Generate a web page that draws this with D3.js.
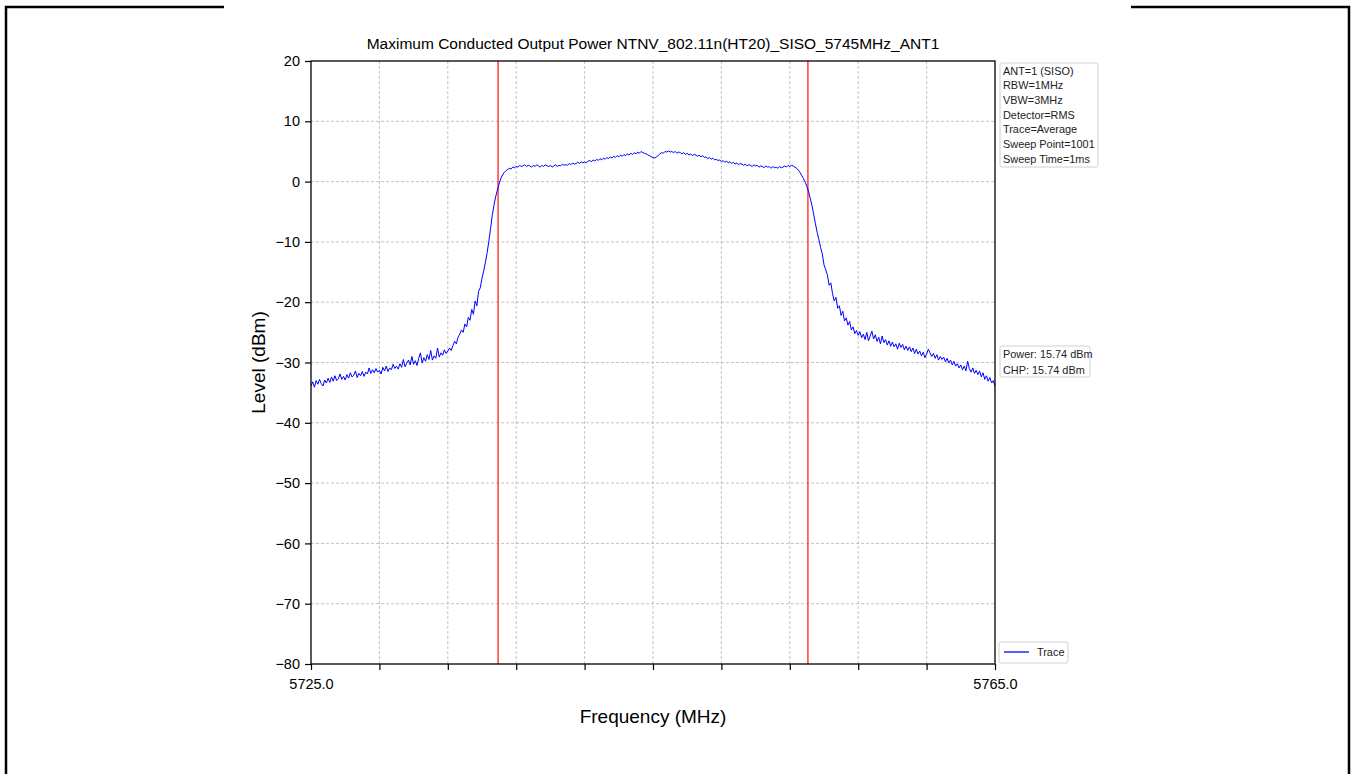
<!DOCTYPE html>
<html><head><meta charset="utf-8">
<script src="https://cdn.jsdelivr.net/npm/d3@7"></script>
<style>
html,body{margin:0;padding:0;background:#fff;}
svg text{font-family:"Liberation Sans",Arial,sans-serif;}
</style></head>
<body>
<svg id="c" width="1352" height="774"></svg>
<script>
// ---- data ----
const startFreq = 5725.0;
const stopFreq = 5765.0;
const xTickValues = [5725,5729,5733,5737,5741,5745,5749,5753,5757,5761,5765];
const xTickLabels = ["5725.0","","","","","","","","","","5765.0"];
const yTickValues = [-80,-70,-60,-50,-40,-30,-20,-10,0,10,20];
const markerFreqs = [5735.94, 5754.06];
const levels = [
-33.9,-33.2,-34.1,-33.0,-33.6,-32.8,-33.5,-33.9,-32.9,-33.4,
-32.6,-33.3,-32.4,-33.1,-32.2,-33.0,-32.7,-31.9,-32.8,-32.3,
-32.9,-32.0,-32.6,-31.7,-32.4,-32.1,-31.4,-32.5,-31.8,-32.2,
-31.5,-32.3,-31.6,-31.9,-30.9,-31.8,-31.2,-31.7,-31.0,-31.6,
-31.3,-31.9,-30.8,-31.4,-30.6,-31.5,-30.9,-31.2,-30.3,-31.0,
-30.6,-31.1,-30.2,-30.8,-29.5,-30.7,-30.1,-29.6,-30.4,-29.0,
-30.3,-29.7,-30.5,-29.3,-28.4,-30.1,-29.2,-29.8,-28.7,-29.5,
-28.0,-29.6,-28.9,-29.3,-27.6,-29.1,-28.4,-28.8,-27.9,-28.5,
-28.1,-27.6,-28.0,-27.2,-26.5,-26.9,-25.8,-25.3,-24.6,-25.0,
-23.6,-24.1,-22.5,-23.0,-21.2,-22.0,-19.8,-20.6,-18.2,-17.6,
-16.0,-14.8,-13.4,-11.8,-9.9,-7.8,-5.6,-3.9,-2.5,-1.4,
-0.4,0.5,1.1,1.5,1.8,2.0,2.2,2.1,2.4,2.3,
2.5,2.4,2.7,2.5,2.6,2.8,2.5,2.7,2.6,2.4,
2.7,2.5,2.8,2.6,2.4,2.7,2.5,2.8,2.6,2.5,
2.7,2.4,2.6,2.8,2.5,2.7,2.6,2.9,2.7,2.8,
2.7,3.0,2.8,3.1,2.9,3.0,3.2,3.0,3.3,3.1,
3.3,3.1,3.4,3.5,3.3,3.6,3.4,3.7,3.5,3.8,
3.6,3.9,3.7,4.0,3.8,4.1,3.9,4.2,4.0,4.3,
4.1,4.4,4.2,4.5,4.3,4.6,4.4,4.7,4.5,4.8,
4.6,4.9,4.7,5.0,4.8,4.7,4.6,4.4,4.3,4.1,
4.0,3.9,4.1,4.3,4.6,4.8,4.7,5.0,4.9,5.1,
4.9,5.0,4.8,5.0,4.7,4.9,4.8,4.6,4.8,4.5,
4.7,4.4,4.6,4.3,4.5,4.4,4.2,4.4,4.1,4.3,
4.0,4.1,3.8,4.0,3.7,3.9,3.6,3.7,3.5,3.6,
3.3,3.5,3.2,3.4,3.1,3.3,3.0,3.2,2.9,3.1,
2.8,3.0,2.9,2.7,2.9,2.6,2.8,2.7,2.5,2.8,
2.6,2.7,2.4,2.6,2.5,2.3,2.6,2.4,2.5,2.2,
2.5,2.3,2.4,2.2,2.5,2.3,2.4,2.6,2.4,2.7,
2.5,2.7,2.6,2.4,2.2,1.9,1.5,1.0,0.5,-0.1,
-0.8,-1.7,-2.8,-4.0,-5.5,-7.0,-8.4,-9.6,-10.9,-12.0,
-13.8,-14.6,-15.5,-17.2,-16.8,-18.6,-19.8,-19.2,-21.0,-20.6,
-22.2,-21.5,-23.1,-22.6,-23.8,-23.2,-24.6,-24.1,-25.2,-24.7,
-25.5,-24.9,-25.9,-25.3,-26.2,-25.0,-26.4,-25.6,-24.8,-26.1,
-25.4,-26.5,-25.8,-26.9,-25.6,-26.7,-26.2,-27.1,-26.4,-27.3,
-26.6,-27.4,-26.9,-27.8,-26.8,-27.5,-27.0,-27.9,-27.3,-28.0,
-27.4,-28.2,-27.6,-28.5,-27.8,-28.6,-28.1,-28.9,-28.3,-29.2,
-28.6,-27.8,-28.4,-29.0,-28.5,-29.3,-28.7,-29.6,-29.0,-29.5,
-29.1,-29.9,-29.3,-30.1,-29.6,-30.4,-29.8,-30.6,-30.2,-30.9,
-30.4,-31.2,-30.6,-31.4,-29.8,-31.0,-31.6,-30.9,-31.8,-31.3,
-32.0,-31.4,-32.4,-31.7,-32.8,-32.2,-33.1,-32.5,-33.4,-33.0,
-33.9
];
const titleText = "Maximum Conducted Output Power NTNV_802.11n(HT20)_SISO_5745MHz_ANT1";
const infoLines = ["ANT=1 (SISO)","RBW=1MHz","VBW=3MHz","Detector=RMS","Trace=Average","Sweep Point=1001","Sweep Time=1ms"];
const powerLines = ["Power: 15.74 dBm","CHP: 15.74 dBm"];
const legendLabel = "Trace";

// ---- drawing ----
const svg = d3.select("#c");
// page frame
const frame = svg.append("g").attr("stroke","#000").attr("stroke-width",2.5).attr("fill","none");
frame.append("path").attr("d","M6,774 L6,7 L224,7");
frame.append("path").attr("d","M1131,7 L1349,7 L1349,774");

const L=311,R=995,T=61,B=664;
const step = (stopFreq-startFreq)/(levels.length-1);
const pts = levels.map((v,i)=>({f:startFreq+i*step, v}));
const x = d3.scaleLinear().domain([startFreq,stopFreq]).range([L,R]);
const y = d3.scaleLinear().domain([-80,20]).range([B,T]);

// grid
const grid = svg.append("g").attr("stroke","#b4b4b4").attr("stroke-width",0.8).attr("stroke-dasharray","3,2");
grid.selectAll("line.v").data(xTickValues.slice(1,-1)).join("line")
  .attr("x1",d=>x(d)).attr("x2",d=>x(d)).attr("y1",T).attr("y2",B);
grid.selectAll("line.h").data(yTickValues.slice(1,-1)).join("line")
  .attr("x1",L).attr("x2",R).attr("y1",d=>y(d)).attr("y2",d=>y(d));

// markers
svg.append("g").selectAll("line").data(markerFreqs).join("line")
  .attr("x1",d=>x(d)).attr("x2",d=>x(d)).attr("y1",T).attr("y2",B)
  .attr("stroke","#ff2020").attr("stroke-width",1.3);

// trace
svg.append("path").datum(pts)
  .attr("d",d3.line().x(d=>x(d.f)).y(d=>y(d.v)))
  .attr("fill","none").attr("stroke","#0000ff").attr("stroke-width",1);

// axes
const xa = svg.append("g").attr("transform",`translate(0,${B})`)
  .call(d3.axisBottom(x).tickValues(xTickValues).tickFormat((d,i)=>xTickLabels[i]).tickSize(6).tickPadding(9));
const ya = svg.append("g").attr("transform",`translate(${L},0)`)
  .call(d3.axisLeft(y).tickValues(yTickValues).tickFormat(d=>d<0?"\u2212"+Math.abs(d):d).tickSize(6).tickPadding(5));
[xa,ya].forEach(a=>{a.select(".domain").remove();a.selectAll("line").attr("stroke","#000").attr("stroke-width",1.2);
  a.selectAll("text").attr("font-size",14.5).attr("fill","#000").style("font-family","'Liberation Sans',Arial,sans-serif");});
svg.append("rect").attr("x",L).attr("y",T).attr("width",R-L).attr("height",B-T)
  .attr("fill","none").attr("stroke","#000").attr("stroke-width",1.3);

// titles
svg.append("text").attr("x",(L+R)/2).attr("y",49).attr("text-anchor","middle").attr("font-size",15.5).text(titleText);
svg.append("text").attr("x",(L+R)/2).attr("y",723).attr("text-anchor","middle").attr("font-size",19).text("Frequency (MHz)");
svg.append("text").attr("transform",`translate(265,${(T+B)/2}) rotate(-90)`).attr("text-anchor","middle").attr("font-size",19).text("Level (dBm)");

// info boxes
function box(x0,y0,w,h){svg.append("rect").attr("x",x0).attr("y",y0).attr("width",w).attr("height",h)
  .attr("rx",2).attr("fill","#fff").attr("stroke","#d0d0d0").attr("stroke-width",1);}
box(1000,63,98,104);
svg.append("g").selectAll("text").data(infoLines).join("text")
  .attr("x",1003).attr("y",(d,i)=>74.5+i*14.7).attr("font-size",10.9).attr("fill","#222").text(d=>d);
box(1000,346,90,31);
svg.append("g").selectAll("text").data(powerLines).join("text")
  .attr("x",1003).attr("y",(d,i)=>358+i*16).attr("font-size",10.9).attr("fill","#222").text(d=>d);
box(999,642,69,21);
svg.append("line").attr("x1",1004).attr("x2",1029).attr("y1",652).attr("y2",652).attr("stroke","#0000ff").attr("stroke-width",1.3);
svg.append("text").attr("x",1037).attr("y",656).attr("font-size",10.9).attr("fill","#222").text(legendLabel);
</script>
</body></html>
